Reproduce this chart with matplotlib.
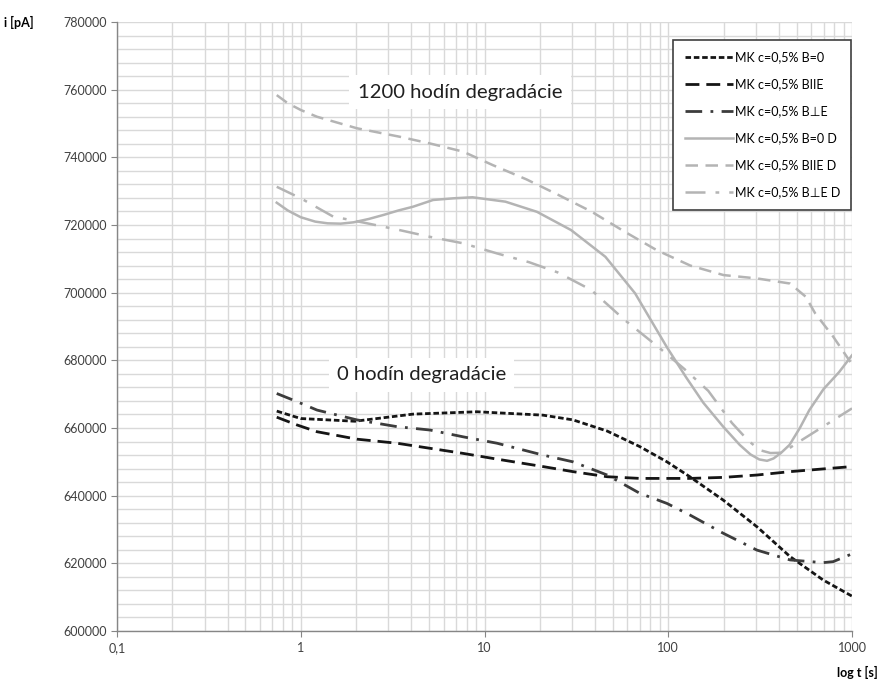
import numpy as np
import matplotlib
matplotlib.use("Agg")
import matplotlib.pyplot as plt
from matplotlib.ticker import FixedLocator, FuncFormatter, NullFormatter

plt.rcParams['font.family'] = ['Lato', 'DejaVu Sans']

# time [s] and current [pA]
t_b0 = [0.74, 1.0, 1.97, 4.08, 9.1, 20.8, 30.3, 46.5, 70, 98.4, 131, 199, 304, 460, 695, 1000]
i_b0 = [665000, 662800, 662000, 664100, 664800, 663800, 662400, 659100, 654500, 650000,
        645600, 638700, 630800, 622000, 615100, 610300]

t_bpar = [0.74, 0.954, 1.226, 2.02, 3.34, 5.05, 7.64, 11.7, 20.8, 30.3, 46.5, 70, 131,
          199, 304, 460, 695, 1000]
i_bpar = [663200, 660900, 658900, 656700, 655500, 654000, 652500, 650800, 648600, 647100,
          645600, 645100, 645100, 645400, 646100, 647100, 647900, 648600]

t_bperp = [0.74, 0.954, 1.226, 2.02, 3.34, 5.05, 7.64, 11.7, 20.8, 30.3, 46.5, 70, 98.4,
           131, 199, 304, 460, 695, 790, 1000]
i_bperp = [670200, 667800, 665300, 662400, 660400, 659400, 657400, 655500, 652000, 650000,
           646100, 640700, 637700, 634300, 628900, 623900, 621000, 620200, 620500, 622800]

t_b0d = [0.74, 0.85, 1.0, 1.2, 1.4, 1.65, 1.94, 2.35, 2.83, 3.4, 4.08, 5.25, 6.8, 8.6, 13.0,
         19.3, 29.6, 45.5, 66, 98, 125, 155, 199, 245, 280, 313, 345, 374, 410, 457, 520,
         586, 700, 850, 1000]
i_b0d = [726600, 724300, 722300, 721000, 720500, 720400, 720800, 721800, 723000, 724300,
         725400, 727400, 727900, 728200, 726900, 723900, 718500, 710600, 699800, 684000,
         675000, 667500, 660400, 655000, 652200, 650700, 650300, 651000, 652600, 655000,
         660000, 665300, 671500, 676500, 681500]

t_bpard = [0.74, 0.85, 1.0, 1.226, 2.02, 3.45, 5.05, 7.64, 11.1, 16.9, 25.0, 38.1, 58, 87,
           132, 200, 305, 460, 560, 630, 790, 980]
i_bpard = [758400, 756000, 754000, 752000, 748600, 746100, 744100, 741700, 737700, 733500,
           729000, 724000, 718000, 712500, 708000, 705200, 704200, 702700, 698800, 693900,
           687000, 679500]

t_bperpd = [0.74, 1.0, 1.5, 2.3, 3.45, 5.05, 7.64, 11.7, 17.5, 25.0, 38.1, 58, 88, 122,
            165, 222, 270, 313, 360, 420, 500, 668, 1000]
i_bperpd = [731300, 727900, 722500, 720500, 718500, 716500, 714600, 711600, 709000, 706000,
            700800, 691900, 684000, 677500, 671000, 661500, 656500, 653500, 652600, 652700,
            655500, 659800, 665800]

labels = ["MK c=0,5% B=0", "MK c=0,5% BIIE", "MK c=0,5% B\u22a5E",
          "MK c=0,5% B=0 D", "MK c=0,5% BIIE D", "MK c=0,5% B\u22a5E D"]
y_ticks = list(range(600000, 780001, 20000))
x_ticks = [0.1, 1, 10, 100, 1000]
x_ticklabels = ["0,1", "1", "10", "100", "1000"]

fig = plt.figure(figsize=(8.79, 6.84), dpi=100)
ax = fig.add_axes([0.1331, 0.0775, 0.8362, 0.8903])

grid_c = "#d9d9d9"
ax.set_xscale("log")
ax.set_xlim(0.1, 1000)
ax.set_ylim(600000, 780000)

# grid: log minor verticals, horizontal every 4000
ax.xaxis.set_minor_locator(FixedLocator([m * 10.0 ** e for e in range(-1, 3) for m in range(2, 10)]))
ax.xaxis.set_minor_formatter(NullFormatter())
ax.xaxis.set_major_locator(FixedLocator(x_ticks))
ax.xaxis.set_major_formatter(FuncFormatter(lambda v, p: x_ticklabels[x_ticks.index(v)] if v in x_ticks else ""))
ax.yaxis.set_major_locator(FixedLocator(y_ticks))
ax.yaxis.set_minor_locator(FixedLocator(list(range(600000, 780001, 4000))))
ax.yaxis.set_major_formatter(FuncFormatter(lambda v, p: "%d" % v))
ax.grid(True, which="both", color=grid_c, linewidth=1.0)
ax.set_axisbelow(True)

for s in ["top", "right"]:
    ax.spines[s].set_visible(False)
for s in ["left", "bottom"]:
    ax.spines[s].set_color("#868686")
    ax.spines[s].set_linewidth(1.0)
ax.tick_params(which="major", length=4, color="#868686", labelsize=9, labelcolor="#404040", pad=3)
ax.tick_params(which="minor", length=0)
ax.tick_params(axis="x", pad=4)

black = "#151515"
dgray = "#3c3c3c"
lgray = "#b4b4b4"
ax.plot(t_b0, i_b0, color=black, lw=2.0, ls=(0, (2, 1)), label=labels[0])
ax.plot(t_bpar, i_bpar, color=black, lw=2.0, ls=(0, (5, 2.5)), label=labels[1])
ax.plot(t_bperp, i_bperp, color=dgray, lw=2.0, ls=(0, (6, 3, 1, 3)), label=labels[2])
ax.plot(t_b0d, i_b0d, color=lgray, lw=1.8, ls="-", label=labels[3])
ax.plot(t_bpard, i_bpard, color=lgray, lw=1.8, ls=(0, (5, 3)), label=labels[4])
ax.plot(t_bperpd, i_bperpd, color=lgray, lw=1.8, ls=(0, (8, 4, 1.5, 4)), label=labels[5])

leg = ax.legend(loc="upper right", bbox_to_anchor=(0.999, 0.9704), fontsize=9,
                frameon=True, fancybox=False, edgecolor="#404040", framealpha=1,
                handlelength=3.9, handletextpad=0.1, labelspacing=1.2,
                borderpad=0.9, borderaxespad=0)
leg.get_frame().set_linewidth(1.2)

ax.text(7.36, 759300, "1200 hod\u00edn degrad\u00e1cie", fontsize=14.6, ha="center", va="center",
        color="#202020", bbox=dict(facecolor="white", edgecolor="none", pad=6))
ax.text(4.54, 675700, "0 hod\u00edn degrad\u00e1cie", fontsize=14.6, ha="center", va="center",
        color="#202020", bbox=dict(facecolor="white", edgecolor="none", pad=6))

fig.text(0.005, 0.967, "i [pA]", fontsize=9, fontweight="bold", ha="left", va="center")
fig.text(0.999, 0.017, "log t [s]", fontsize=9, fontweight="bold", ha="right", va="center")

fig.savefig("out.png", dpi=100)
